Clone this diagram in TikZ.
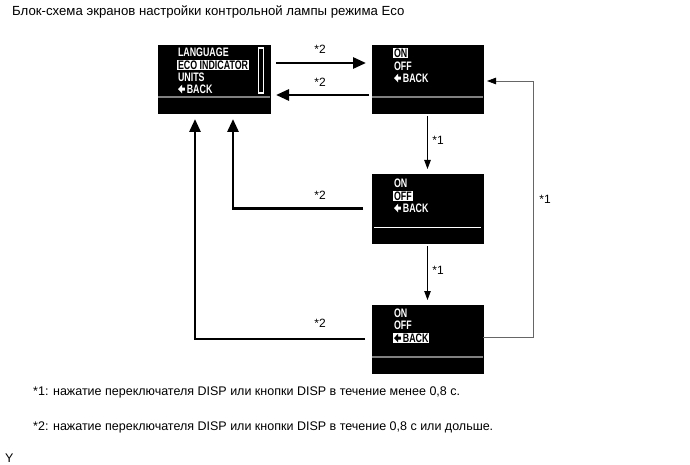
\documentclass[tikz,border=0pt]{standalone}
\usepackage{fontspec}
\setmainfont{Liberation Sans}
\newfontfamily\lcdfont[FakeStretch=0.72]{Liberation Sans Bold}
\usetikzlibrary{arrows.meta}
\newcommand{\bk}[1][white]{\tikz[baseline=0pt]\fill[#1] (0pt,4pt) -- (4.2pt,8.4pt) -- (4.2pt,5.5pt) -- (6.8pt,5.5pt) -- (6.8pt,2.5pt) -- (4.2pt,2.5pt) -- (4.2pt,-0.4pt) -- cycle;\,BACK}
\begin{document}
\begin{tikzpicture}[x=1pt,y=-1pt,
 screen/.style={draw=black, fill=black, minimum width=111pt, minimum height=68pt, inner sep=0pt, outer sep=0pt},
 lcd/.style={anchor=west, text=white, font=\lcdfont\fontsize{12.3}{12.3}\selectfont, inner sep=0.8pt},
 sel/.style={lcd, fill=white, text=black},
 thickarr/.style={line width=2.8pt, -{Triangle[length=13pt,width=11pt]}},
 thinarr/.style={line width=0.9pt, -{Triangle[length=9pt,width=6.5pt,color=black,fill=black]}},
 lbl/.style={font=\fontsize{12}{12}\selectfont, inner sep=0pt},
 txt/.style={anchor=west, font=\fontsize{12.5}{14}\selectfont, inner sep=0pt}
]
\useasboundingbox (0,0) rectangle (690,465);

\node[txt, font=\fontsize{13.2}{14}\selectfont] (title) at (12,12) {Блок-схема экранов настройки контрольной лампы режима Eco};

% screens
\node[screen, minimum width=112pt] (b1) at (214,79) {};
\node[screen] (b2) at (427.5,79) {};
\node[screen, minimum height=69pt] (b3) at (427.5,208.5) {};
\node[screen] (b4) at (427.5,339) {};

% separators
\draw[gray, line width=1.8pt] ([yshift=-18pt]b1.west) -- ([yshift=-18pt]b1.east);
\draw[gray, line width=1.8pt] ([yshift=-18pt]b2.west) -- ([yshift=-18pt]b2.east);
\draw[white, line width=1pt] ([xshift=2pt,yshift=-18.5pt]b3.west) -- ([xshift=-2pt,yshift=-18.5pt]b3.east);
\draw[gray, line width=1.8pt] ([yshift=-18pt]b4.west) -- ([yshift=-18pt]b4.east);

% scroll bar
\draw[white, line width=1.4pt] (258.5,48) rectangle (263.5,93);

% screen 1 text
\node[lcd] (l1) at (177,52) {LANGUAGE};
\node[sel] (l2) at (177,65) {ECO INDICATOR};
\node[lcd] (l3) at (177,77) {UNITS};
\node[lcd] (l4) at (177,89) {\bk};

% screen 2 text
\node[sel] (s2a) at (393,53) {ON};
\node[lcd] (s2b) at (393,66) {OFF};
\node[lcd] (s2c) at (393,78) {\bk};

% screen 3 text
\node[lcd] (s3a) at (393,183) {ON};
\node[sel] (s3b) at (393,196) {OFF};
\node[lcd] (s3c) at (393,208) {\bk};

% screen 4 text
\node[lcd] (s4a) at (393,313) {ON};
\node[lcd] (s4b) at (393,325) {OFF};
\node[sel] (s4c) at (393,338) {\bk[black]};

% top arrows
\draw[thickarr, shorten <=6pt, shorten >=6pt] ([yshift=16pt]b1.east) -- ([yshift=16pt]b2.west);
\draw[thickarr, shorten <=3pt, shorten >=6pt] ([yshift=-16pt]b2.west) -- ([yshift=-16pt]b1.east);
\node[lbl] (t1) at (320,49) {*2};
\node[lbl] (t2) at (320,82) {*2};

% vertical *1 arrows
\draw[thinarr, shorten <=3pt, shorten >=5pt] (b2.south) -- (b3.north);
\draw[thinarr, shorten <=3pt, shorten >=5pt] (b3.south) -- (b4.north);
\node[lbl] (v1) at (438,140) {*1};
\node[lbl] (v2) at (438,270) {*1};

% right loop
\coordinate (rc) at (533,0);
\draw[thinarr, line width=0.8pt, draw=black!60, shorten >=4pt] ([yshift=2pt]b4.east) -| ([yshift=-2pt]rc |- b2.east) -- ([yshift=-2pt]b2.east);
\node[lbl] (r1) at (545,199) {*1};

% left thick arrows
\draw[thickarr, shorten <=9pt, shorten >=6pt] (b3.west) -| ([xshift=19pt]b1.south);
\draw[thickarr, shorten <=7pt, shorten >=6pt] (b4.west) -| ([xshift=-19pt]b1.south);
\node[lbl] (m1) at (320,195) {*2};
\node[lbl] (m2) at (320,323) {*2};

% footnotes
\node[txt] (f1) at (33,392) {*1: нажатие переключателя DISP или кнопки DISP в течение менее 0,8 с.};
\node[txt] (f2) at (33,427) {*2: нажатие переключателя DISP или кнопки DISP в течение 0,8 с или дольше.};
\node[txt] (y) at (5,458) {Y};
\end{tikzpicture}
\end{document}
